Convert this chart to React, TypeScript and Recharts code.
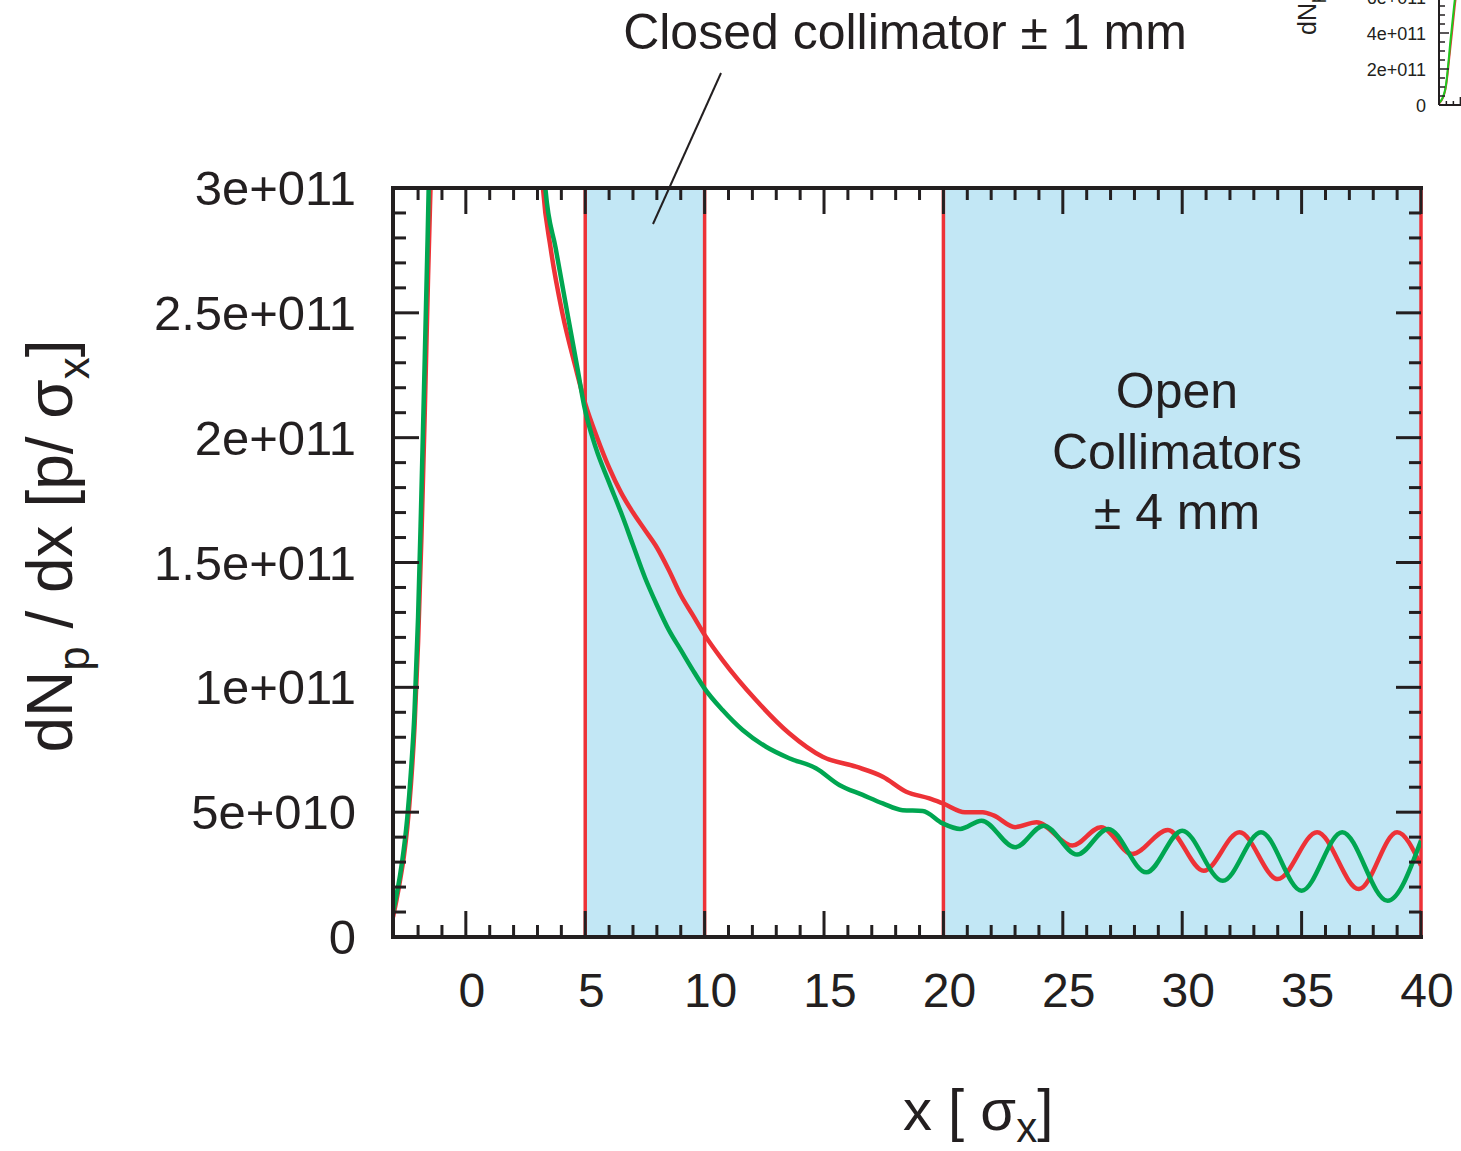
import React from 'react';
import { LineChart, Line, XAxis, YAxis, ReferenceArea, ReferenceLine } from 'recharts';

const FONT = '"Liberation Sans", Arial, Helvetica, sans-serif';
const INK = '#231F20';
const RED = '#ED3237';
const GREEN = '#00A651';
const SHADE = '#C2E7F5';
const INSET_GREEN = '#1EC81E';

// Red series (x in sigma_x, y in p/sigma_x)
const redX = [-3.05, -2.9, -2.75, -2.6, -2.45, -2.3, -2.15, -2.0, -1.86, -1.72, -1.58, -1.45, -1.2, -0.8, -0.3, 0.3, 0.8, 1.4, 2.0, 2.5, 2.9,
  3.23, 3.55, 4.04, 4.6, 5.02, 5.5, 6.0, 6.5, 7.0, 7.5, 8.0, 8.5, 9.0, 9.5, 10.0, 10.75, 12.15, 13.54, 14.94, 16.34, 17.46, 18.44, 19.41,
  20.0, 20.9, 21.65, 22.1, 23.0, 23.9, 25.4, 26.6, 27.9, 29.4, 30.9, 32.4, 34.0, 35.65, 37.4, 39.0, 40];
const redY = [0.8e10, 1.5e10, 2.3e10, 3.2e10, 4.4e10, 6.1e10, 8.4e10, 11.8e10, 16e10, 21e10, 26.5e10, 31e10, 40e10, 55e10, 70e10, 80e10, 82e10, 75e10, 60e10, 46e10, 36e10,
  30e10, 27.6e10, 25.0e10, 22.8e10, 21.3e10, 20.0e10, 18.8e10, 17.8e10, 17.0e10, 16.3e10, 15.6e10, 14.7e10, 13.7e10, 12.9e10, 12.1e10, 11.09e10, 9.49e10, 8.16e10, 7.22e10, 6.82e10, 6.42e10, 5.82e10, 5.55e10,
  5.34e10, 5.0e10, 5.0e10, 4.87e10, 4.4e10, 4.6e10, 3.66e10, 4.4e10, 3.32e10, 4.29e10, 2.65e10, 4.2e10, 2.32e10, 4.2e10, 1.92e10, 4.2e10, 2.86e10];

// Green series
const greenX = [-3.05, -2.9, -2.75, -2.6, -2.45, -2.3, -2.15, -2.0, -1.88, -1.75, -1.6, -1.5, -1.3, -0.9, -0.4, 0.2, 0.7, 1.3, 1.9, 2.5, 2.95,
  3.34, 3.76, 4.25, 4.67, 4.95, 5.44, 6.0, 6.5, 7.0, 7.5, 8.0, 8.5, 9.0, 9.5, 10.0, 10.75, 11.59, 12.57, 13.54, 14.66, 15.64, 16.62, 17.46, 18.29, 19.13,
  19.97, 20.7, 21.6, 23.0, 24.2, 25.6, 26.9, 28.5, 30.0, 31.7, 33.3, 35.0, 36.7, 38.6, 40];
const greenY = [1.0e10, 1.7e10, 2.5e10, 3.5e10, 4.8e10, 6.6e10, 9.0e10, 12.8e10, 17e10, 22e10, 28e10, 32.5e10, 40e10, 55e10, 70e10, 80e10, 82e10, 75e10, 60e10, 45e10, 36e10,
  29.9e10, 27.6e10, 25.0e10, 22.8e10, 21.3e10, 19.6e10, 18.2e10, 17.0e10, 15.7e10, 14.4e10, 13.3e10, 12.3e10, 11.5e10, 10.7e10, 9.95e10, 9.09e10, 8.29e10, 7.62e10, 7.16e10, 6.76e10, 6.09e10, 5.69e10, 5.35e10, 5.08e10, 5.05e10,
  4.55e10, 4.33e10, 4.66e10, 3.59e10, 4.46e10, 3.3e10, 4.33e10, 2.59e10, 4.26e10, 2.25e10, 4.2e10, 1.85e10, 4.2e10, 1.45e10, 3.86e10];

const xTicks = [-2, -1, 0, 1, 2, 3, 4, 5, 6, 7, 8, 9, 10, 11, 12, 13, 14, 15, 16, 17, 18, 19, 20, 21, 22, 23, 24, 25, 26, 27, 28, 29, 30, 31, 32, 33, 34, 35, 36, 37, 38, 39, 40];
const xMajorTicks = [0, 5, 10, 15, 20, 25, 30, 35, 40];
const xTickLabels = ['0', '5', '10', '15', '20', '25', '30', '35', '40'];
const yTicks = [0, 1e10, 2e10, 3e10, 4e10, 5e10, 6e10, 7e10, 8e10, 9e10, 10e10, 11e10, 12e10, 13e10, 14e10, 15e10, 16e10, 17e10, 18e10, 19e10, 20e10, 21e10, 22e10, 23e10, 24e10, 25e10, 26e10, 27e10, 28e10, 29e10, 30e10];
const yMajorTicks = [0, 5e10, 10e10, 15e10, 20e10, 25e10, 30e10];
const yTickLabels = ['0', '5e+010', '1e+011', '1.5e+011', '2e+011', '2.5e+011', '3e+011'];

const insetYTicks = [0, 0.5e11, 1e11, 1.5e11, 2e11, 2.5e11, 3e11, 3.5e11, 4e11, 4.5e11, 5e11, 5.5e11, 6e11, 6.5e11, 7e11, 7.5e11, 8e11];
const insetYMajorTicks = [0, 2e11, 4e11, 6e11, 8e11];
const insetYTickLabels = ['0', '2e+011', '4e+011', '6e+011', '8e+011'];

const closedBand = [5, 10];
const openBand = [20, 40];
const collimatorEdges = [5, 10, 20, 40];

const redData = redX.map((x, i) => ({ x, y: redY[i] }));
const greenData = greenX.map((x, i) => ({ x, y: greenY[i] }));

const majorIndex = (list: number[], v: number) => list.findIndex((m) => Math.abs(m - v) < Math.max(1e-6, Math.abs(m) * 1e-6));

function BottomTick(props: any) {
  const { x, y, payload } = props;
  const i = majorIndex(xMajorTicks, payload.value);
  const len = i >= 0 ? 26 : 12;
  return (
    <g>
      <line x1={x} y1={y} x2={x} y2={y - len} stroke={INK} strokeWidth={3} />
      {i >= 0 && (
        <text x={x + 6} y={y + 70} textAnchor="middle" fontSize={48} fontFamily={FONT} fill={INK}>
          {xTickLabels[i]}
        </text>
      )}
    </g>
  );
}

function TopTick(props: any) {
  const { x, y, payload } = props;
  const i = majorIndex(xMajorTicks, payload.value);
  const len = i >= 0 ? 26 : 12;
  return <line x1={x} y1={y} x2={x} y2={y + len} stroke={INK} strokeWidth={3} />;
}

function LeftTick(props: any) {
  const { x, y, payload } = props;
  const i = majorIndex(yMajorTicks, payload.value);
  const len = i >= 0 ? 26 : 13;
  return (
    <g>
      <line x1={x} y1={y} x2={x + len} y2={y} stroke={INK} strokeWidth={3} />
      {i >= 0 && (
        <text x={x - 37} y={y + 17} textAnchor="end" fontSize={49} fontFamily={FONT} fill={INK}>
          {yTickLabels[i]}
        </text>
      )}
    </g>
  );
}

function RightTick(props: any) {
  const { x, y, payload } = props;
  const i = majorIndex(yMajorTicks, payload.value);
  const len = i >= 0 ? 25 : 12;
  return <line x1={x} y1={y} x2={x - len} y2={y} stroke={INK} strokeWidth={3} />;
}

function InsetLeftTick(props: any) {
  const { x, y, payload } = props;
  const i = majorIndex(insetYMajorTicks, payload.value);
  const len = i >= 0 ? 10 : 6;
  return (
    <g>
      <line x1={x} y1={y} x2={x + len} y2={y} stroke={INK} strokeWidth={1.5} />
      {i >= 0 && (
        <text x={x - 13} y={y + 6.5} textAnchor="end" fontSize={18} fontFamily={FONT} fill={INK}>
          {insetYTickLabels[i]}
        </text>
      )}
    </g>
  );
}

function InsetBottomTick(props: any) {
  const { x, y, payload } = props;
  const i = majorIndex(xMajorTicks, payload.value);
  const len = i >= 0 ? 8 : 4;
  return <line x1={x} y1={y} x2={x} y2={y - len} stroke={INK} strokeWidth={1.5} />;
}

const axisLineStyle = { stroke: INK, strokeWidth: 4, strokeLinecap: 'square' as const };

function MainChart() {
  return (
    <LineChart width={1461} height={1151} margin={{ top: 187, right: 39, bottom: 213, left: 392 }}>
      <XAxis
        type="number"
        dataKey="x"
        domain={[-3.05, 40]}
        allowDataOverflow
        ticks={xTicks}
        interval={0}
        height={1}
        tickSize={0}
        tickMargin={0}
        tickLine={false}
        axisLine={axisLineStyle}
        tick={<BottomTick />}
      />
      <XAxis
        xAxisId="top"
        orientation="top"
        type="number"
        dataKey="x"
        domain={[-3.05, 40]}
        allowDataOverflow
        ticks={xTicks}
        interval={0}
        height={1}
        tickSize={0}
        tickMargin={0}
        tickLine={false}
        axisLine={axisLineStyle}
        tick={<TopTick />}
      />
      <YAxis
        type="number"
        domain={[0, 3e11]}
        allowDataOverflow
        ticks={yTicks}
        interval={0}
        width={1}
        tickSize={0}
        tickMargin={0}
        tickLine={false}
        axisLine={axisLineStyle}
        tick={<LeftTick />}
      />
      <YAxis
        yAxisId="right"
        orientation="right"
        type="number"
        domain={[0, 3e11]}
        allowDataOverflow
        ticks={yTicks}
        interval={0}
        width={1}
        tickSize={0}
        tickMargin={0}
        tickLine={false}
        axisLine={false}
        tick={<RightTick />}
      />
      <ReferenceArea x1={closedBand[0]} x2={closedBand[1]} fill={SHADE} fillOpacity={1} stroke="none" />
      <ReferenceArea x1={openBand[0]} x2={openBand[1]} fill={SHADE} fillOpacity={1} stroke="none" />
      {collimatorEdges.map((e) => (
        <ReferenceLine key={e} x={e} stroke={RED} strokeWidth={3.5} />
      ))}
      <Line data={redData} dataKey="y" type="monotone" stroke={RED} strokeWidth={4.5} dot={false} isAnimationActive={false} />
      <Line data={greenData} dataKey="y" type="monotone" stroke={GREEN} strokeWidth={4.5} dot={false} isAnimationActive={false} />
    </LineChart>
  );
}

function InsetChart() {
  return (
    <LineChart width={412} height={184} margin={{ top: 10, right: 10, bottom: 29, left: 99 }}>
      <XAxis
        type="number"
        dataKey="x"
        domain={[-3.05, 40]}
        allowDataOverflow
        ticks={xTicks}
        interval={0}
        height={1}
        tickSize={0}
        tickMargin={0}
        tickLine={false}
        axisLine={{ stroke: INK, strokeWidth: 2 }}
        tick={<InsetBottomTick />}
      />
      <YAxis
        type="number"
        domain={[0, 8e11]}
        allowDataOverflow
        ticks={insetYTicks}
        interval={0}
        width={1}
        tickSize={0}
        tickMargin={0}
        tickLine={false}
        axisLine={{ stroke: INK, strokeWidth: 2 }}
        tick={<InsetLeftTick />}
      />
      <Line data={redData} dataKey="y" type="monotone" stroke={RED} strokeWidth={2} dot={false} isAnimationActive={false} />
      <Line data={greenData} dataKey="y" type="monotone" stroke={INSET_GREEN} strokeWidth={2} dot={false} isAnimationActive={false} />
    </LineChart>
  );
}

export default function App() {
  return (
    <div style={{ position: 'absolute', left: 0, top: 0, width: 1461, height: 1151, overflow: 'hidden', background: '#fff' }}>
      <div style={{ position: 'absolute', left: 0, top: 0 }}>
        <MainChart />
      </div>
      <div style={{ position: 'absolute', left: 1339, top: -49 }}>
        <InsetChart />
      </div>
      <svg width={1461} height={1151} style={{ position: 'absolute', left: 0, top: 0, pointerEvents: 'none' }}>
        <g fontFamily={FONT} fill={INK}>
          <text x={905} y={49} textAnchor="middle" fontSize={50}>Closed collimator ± 1 mm</text>
          <line x1={721} y1={73} x2={653} y2={224} stroke={INK} strokeWidth={2} />
          <text x={1177} y={408} textAnchor="middle" fontSize={50}>Open</text>
          <text x={1177} y={469} textAnchor="middle" fontSize={50}>Collimators</text>
          <text x={1177} y={529} textAnchor="middle" fontSize={50}>± 4 mm</text>
          <text transform="translate(72,546) rotate(-90)" textAnchor="middle" fontSize={64}>
            dN<tspan fontSize={44} dy={17}>p</tspan>
            <tspan dy={-17}> / dx [p/ σ</tspan>
            <tspan fontSize={44} dy={17}>x</tspan>
            <tspan dy={-17}>]</tspan>
          </text>
          <text x={903} y={1130} fontSize={58}>
            x [ σ<tspan fontSize={42} dy={12}>x</tspan>
            <tspan dy={-12}>]</tspan>
          </text>
          <text transform="translate(1316,35) rotate(-90)" textAnchor="start" fontSize={25}>
            dN<tspan fontSize={18} dy={6}>p</tspan>
            <tspan dy={-6}> / dx [p/ σ</tspan>
          </text>
        </g>
      </svg>
    </div>
  );
}
